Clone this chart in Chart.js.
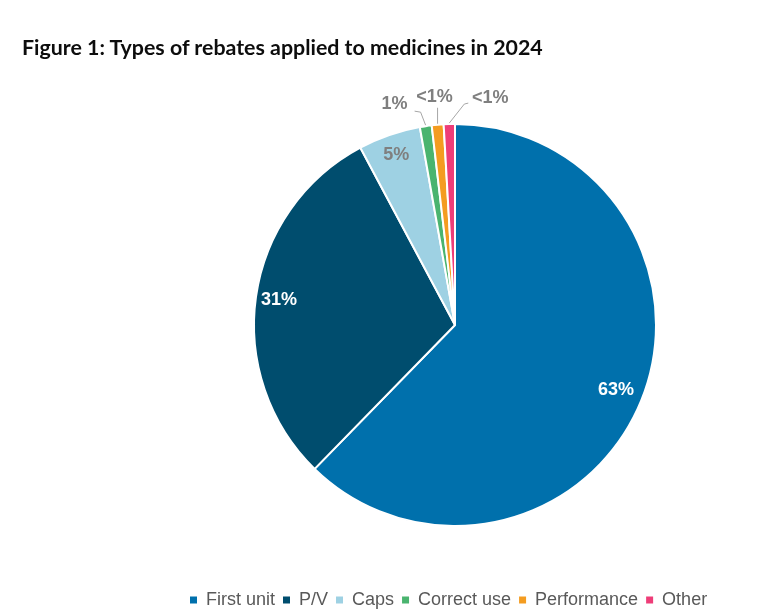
<!DOCTYPE html>
<html>
<head>
<meta charset="utf-8">
<script src="https://cdn.jsdelivr.net/npm/chart.js@4.4.1/dist/chart.umd.min.js"></script>
<style>
html,body{margin:0;padding:0;background:#fff;width:768px;height:614px;overflow:hidden;}
#wrap{position:absolute;left:0;top:0;width:768px;height:614px;}
#title{position:absolute;left:22px;top:35px;font-family:Lato,"Liberation Sans",Arial,sans-serif;font-weight:700;color:#0d0d0d;white-space:nowrap;line-height:24px;font-size:21px;}
</style>
</head>
<body>
<div id="wrap"><canvas id="c" width="768" height="614"></canvas></div>
<div id="title"><span id="tt">Figure 1: Types of rebates applied to medicines in 2024</span></div>
<script>
// ---- data ----
const categories = ['First unit', 'P/V', 'Caps', 'Correct use', 'Performance', 'Other'];
const shares = [62.3, 29.9, 5.0, 0.95, 0.95, 0.9];
const valueLabels = ['63%', '31%', '5%', '1%', '<1%', '<1%'];
const sliceColors = ['#0070ac', '#004d6e', '#9ed1e3', '#4ab46f', '#f49c20', '#ee3d78'];

function fitTitle() {
  const t = document.getElementById('tt');
  document.getElementById('title').style.fontSize = '21px';
  const w = t.getBoundingClientRect().width;
  const fs = 21 * 521 / w;
  document.getElementById('title').style.fontSize = fs.toFixed(2) + 'px';
}

const sliceLabelPlugin = {
  id: 'sliceLabels',
  afterDatasetsDraw(chart, args, opts) {
    const ctx = chart.ctx;
    const meta = chart.getDatasetMeta(0);
    meta.data.forEach((arc, i) => {
      const p = arc.getProps(['x', 'y', 'startAngle', 'endAngle', 'outerRadius'], true);
      const mid = (p.startAngle + p.endAngle) / 2;
      const c = Math.cos(mid), s = Math.sin(mid);
      const lay = opts.layout[i];
      let tx, ty;
      ctx.save();
      if (lay.inside) {
        tx = p.x + c * p.outerRadius * lay.f;
        ty = p.y + s * p.outerRadius * lay.f;
      } else {
        const ex = p.x + c * (p.outerRadius + 1);
        const ey = p.y + s * (p.outerRadius + 1);
        ctx.strokeStyle = opts.lineColor;
        ctx.lineWidth = 1;
        ctx.beginPath();
        ctx.moveTo(ex, ey);
        lay.path.forEach(pt => ctx.lineTo(ex + pt[0], ey + pt[1]));
        ctx.stroke();
        tx = ex + lay.text[0];
        ty = ey + lay.text[1];
      }
      ctx.font = opts.font;
      ctx.fillStyle = lay.color;
      ctx.textAlign = 'center';
      ctx.textBaseline = 'middle';
      ctx.fillText(valueLabels[i], tx, ty);
      ctx.restore();
    });
  }
};

function draw() {
  fitTitle();
  new Chart(document.getElementById('c'), {
    type: 'pie',
    data: {
      labels: categories,
      datasets: [{
        data: shares,
        backgroundColor: sliceColors,
        borderColor: '#ffffff',
        borderWidth: 2,
        radius: 201
      }]
    },
    options: {
      responsive: false,
      animation: false,
      events: [],
      layout: { padding: { left: 182, right: 40, top: 67, bottom: -5 } },
      plugins: {
        tooltip: { enabled: false },
        legend: {
          position: 'bottom',
          align: 'start',
          labels: {
            boxWidth: 7,
            boxHeight: 7,
            padding: 8,
            color: '#595959',
            font: { family: '"Liberation Sans", Arial, sans-serif', size: 18 },
            generateLabels(chart) {
              return Chart.overrides.pie.plugins.legend.labels.generateLabels(chart)
                .map(l => Object.assign(l, { lineWidth: 0, strokeStyle: 'rgba(0,0,0,0)' }));
            }
          }
        },
        sliceLabels: {
          font: 'bold 18px "Liberation Sans", Arial, sans-serif',
          lineColor: '#a6a6a6',
          layout: [
            { inside: true, f: 0.865, color: '#ffffff' },
            { inside: true, f: 0.885, color: '#ffffff' },
            { inside: true, f: 0.895, color: '#7f7f7f' },
            { inside: false, path: [[-5, -13], [-11, -14]], text: [-31, -21], color: '#7f7f7f' },
            { inside: false, path: [[0, -16]], text: [-3, -27], color: '#7f7f7f' },
            { inside: false, path: [[15, -19], [19, -20]], text: [41, -25], color: '#7f7f7f' }
          ]
        }
      }
    },
    plugins: [sliceLabelPlugin]
  });
}

Promise.all([
  document.fonts.load('18px "Liberation Sans"'),
  document.fonts.load('bold 18px "Liberation Sans"'),
  document.fonts.load('bold 21px Lato')
]).then(draw, draw);
</script>
</body>
</html>
